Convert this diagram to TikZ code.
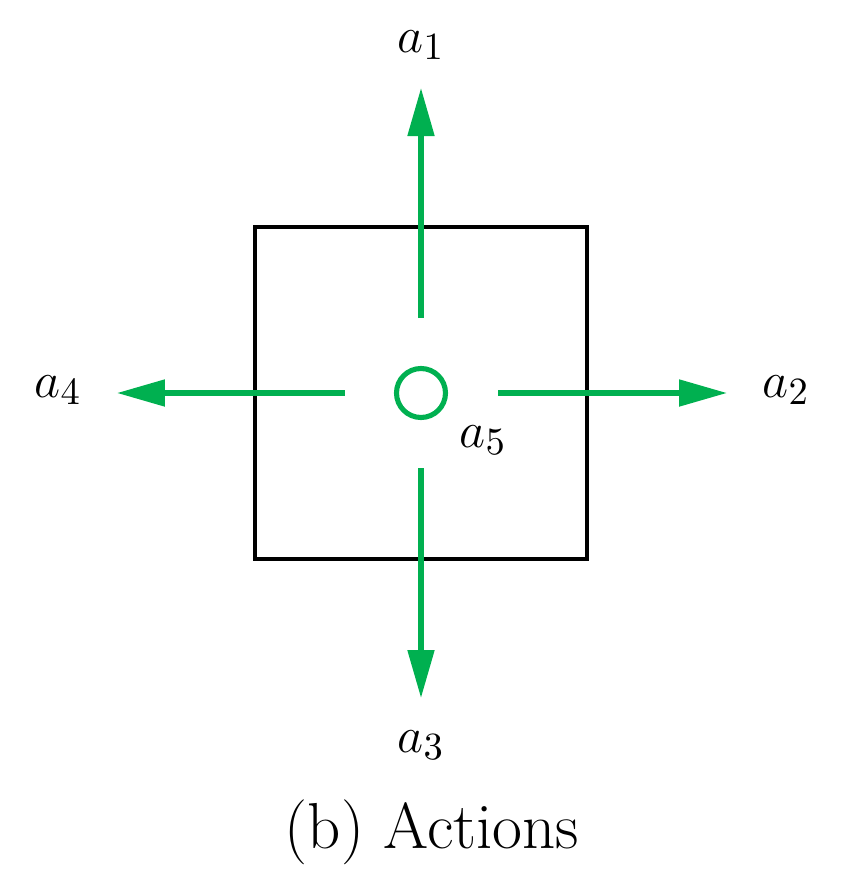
\documentclass[tikz,border=0pt]{standalone}
\usepackage{amsmath}
\usepackage{xcolor}
\usepackage{tikz}
\usetikzlibrary{arrows.meta}
\definecolor{actgreen}{HTML}{00B050}

\begin{document}
\begin{tikzpicture}[
    act/.style={actgreen, line width=1.45pt, -{Triangle[length=4.8mm, width=2.6mm]}},
    lbl/.style={font=\fontsize{15.7}{19}\selectfont, inner sep=0pt}
]
\useasboundingbox (-4.21,-4.87) rectangle (4.26,3.93);
\node (cell) [draw, line width=1.1pt, minimum size=3.32cm, inner sep=0pt] at (0,0) {};
\node (stay) [circle, draw=actgreen, line width=1.45pt, minimum size=4.9mm, inner sep=0pt] at (0,0) {};
% start and tip of each move
\coordinate (upS) at (0, 0.75);
\coordinate (upT) at (0, 3.05);
\coordinate (rgS) at (0.77, 0);
\coordinate (rgT) at (3.06, 0);
\coordinate (dnS) at (0, -0.75);
\coordinate (dnT) at (0, -3.05);
\coordinate (lfS) at (-0.76, 0);
\coordinate (lfT) at (-3.04, 0);
\draw[act] (upS) -- (upT);
\draw[act] (rgS) -- (rgT);
\draw[act] (dnS) -- (dnT);
\draw[act] (lfS) -- (lfT);
\node (a1) [lbl] at (0, 3.48) {$a_1$};
\node (a2) [lbl] at (3.65, 0.03) {$a_2$};
\node (a3) [lbl] at (0, -3.52) {$a_3$};
\node (a4) [lbl] at (-3.63, 0.03) {$a_4$};
\node (a5) [lbl] at (0.62, -0.47) {$a_5$};
\node (cap) [inner sep=0pt, font=\fontsize{18.5}{22}\selectfont] at (0.11, -4.39) {(b) Actions};
\end{tikzpicture}
\end{document}
